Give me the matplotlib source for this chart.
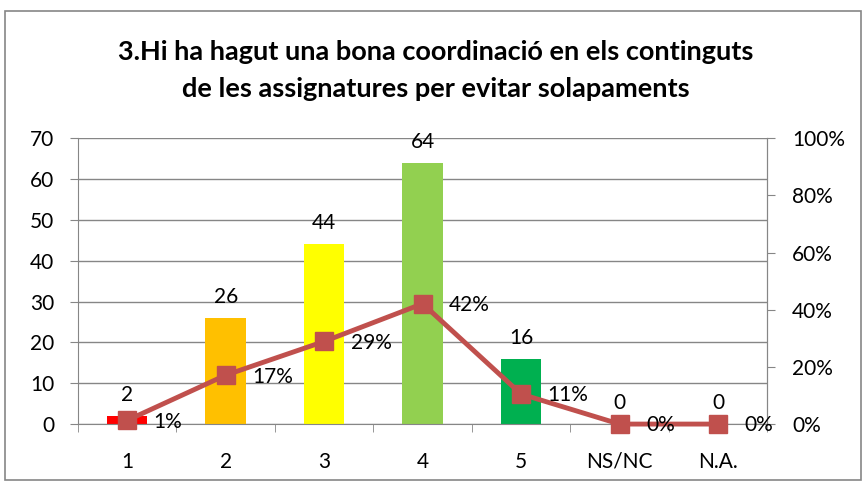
import matplotlib.pyplot as plt
from matplotlib.patches import Rectangle

# --- DADES ---
categories = ["1", "2", "3", "4", "5", "NS/NC", "N.A."]
respostes = [2, 26, 44, 64, 16, 0, 0]
percentatges = [0.013, 0.171, 0.289, 0.421, 0.105, 0.0, 0.0]
etiquetes_pct = ["1%", "17%", "29%", "42%", "11%", "0%", "0%"]
colors_barres = ["#FF0000", "#FFC000", "#FFFF00", "#92D050", "#00B050", "#FFFFFF", "#FFFFFF"]

plt.rcParams["font.family"] = ["Lato", "DejaVu Sans"]

fig = plt.figure(figsize=(8.66, 4.83), dpi=100)
ax = fig.add_axes([0.090, 0.122, 0.796, 0.592])

# marc exterior del gràfic
fig.patches.append(Rectangle((0.006, 0.006), 0.988, 0.971, transform=fig.transFigure,
                             fill=False, edgecolor="#868686", linewidth=1.2))

x = list(range(len(categories)))
ax.bar(x, respostes, width=0.41, color=colors_barres, zorder=2)
for xi, v in zip(x, respostes):
    ax.annotate(str(v), (xi, v), xytext=(0, 8), textcoords="offset points",
                ha="center", va="bottom", fontsize=15)

ax.set_xlim(-0.5, len(categories) - 0.5)
ax.set_ylim(0, 70)
ax.set_yticks(range(0, 71, 10))
ax.set_xticks(x)
ax.set_xticklabels(categories)
ax.set_xticks([i - 0.5 for i in range(len(categories) + 1)], minor=True)
ax.tick_params(axis="x", which="major", length=0, pad=20, labelsize=15)
ax.tick_params(axis="x", which="minor", length=6, color="#868686")
ax.tick_params(axis="y", length=6, color="#868686", labelsize=15, pad=11)
ax.grid(axis="y", color="#868686", linewidth=1, zorder=0)
ax.set_axisbelow(True)
for s in ["top"]:
    ax.spines[s].set_visible(False)
for s in ["left", "bottom", "right"]:
    ax.spines[s].set_color("#868686")

# eix secundari amb percentatges
ax2 = ax.twinx()
ax2.set_ylim(0, 1)
ax2.set_yticks([0, 0.2, 0.4, 0.6, 0.8, 1.0])
ax2.set_yticklabels(["0%", "20%", "40%", "60%", "80%", "100%"])
ax2.tick_params(axis="y", length=6, color="#868686", labelsize=15, pad=12)
for s in ["top", "left", "bottom"]:
    ax2.spines[s].set_visible(False)
ax2.spines["right"].set_color("#868686")
ax2.plot(x, percentatges, color="#C0504D", linewidth=3.5, marker="s",
         markersize=13, zorder=3, clip_on=False)
for xi, p, lab in zip(x, percentatges, etiquetes_pct):
    ax2.annotate(lab, (xi, p), xytext=(19, -1), textcoords="offset points",
                 ha="left", va="center", fontsize=15)

fig.text(0.503, 0.893, "3.Hi ha hagut una bona coordinació en els continguts",
         ha="center", va="center", fontsize=19.5, fontweight="bold")
fig.text(0.503, 0.815, "de les assignatures per evitar solapaments",
         ha="center", va="center", fontsize=19.5, fontweight="bold")

fig.savefig("out.png", dpi=100)
